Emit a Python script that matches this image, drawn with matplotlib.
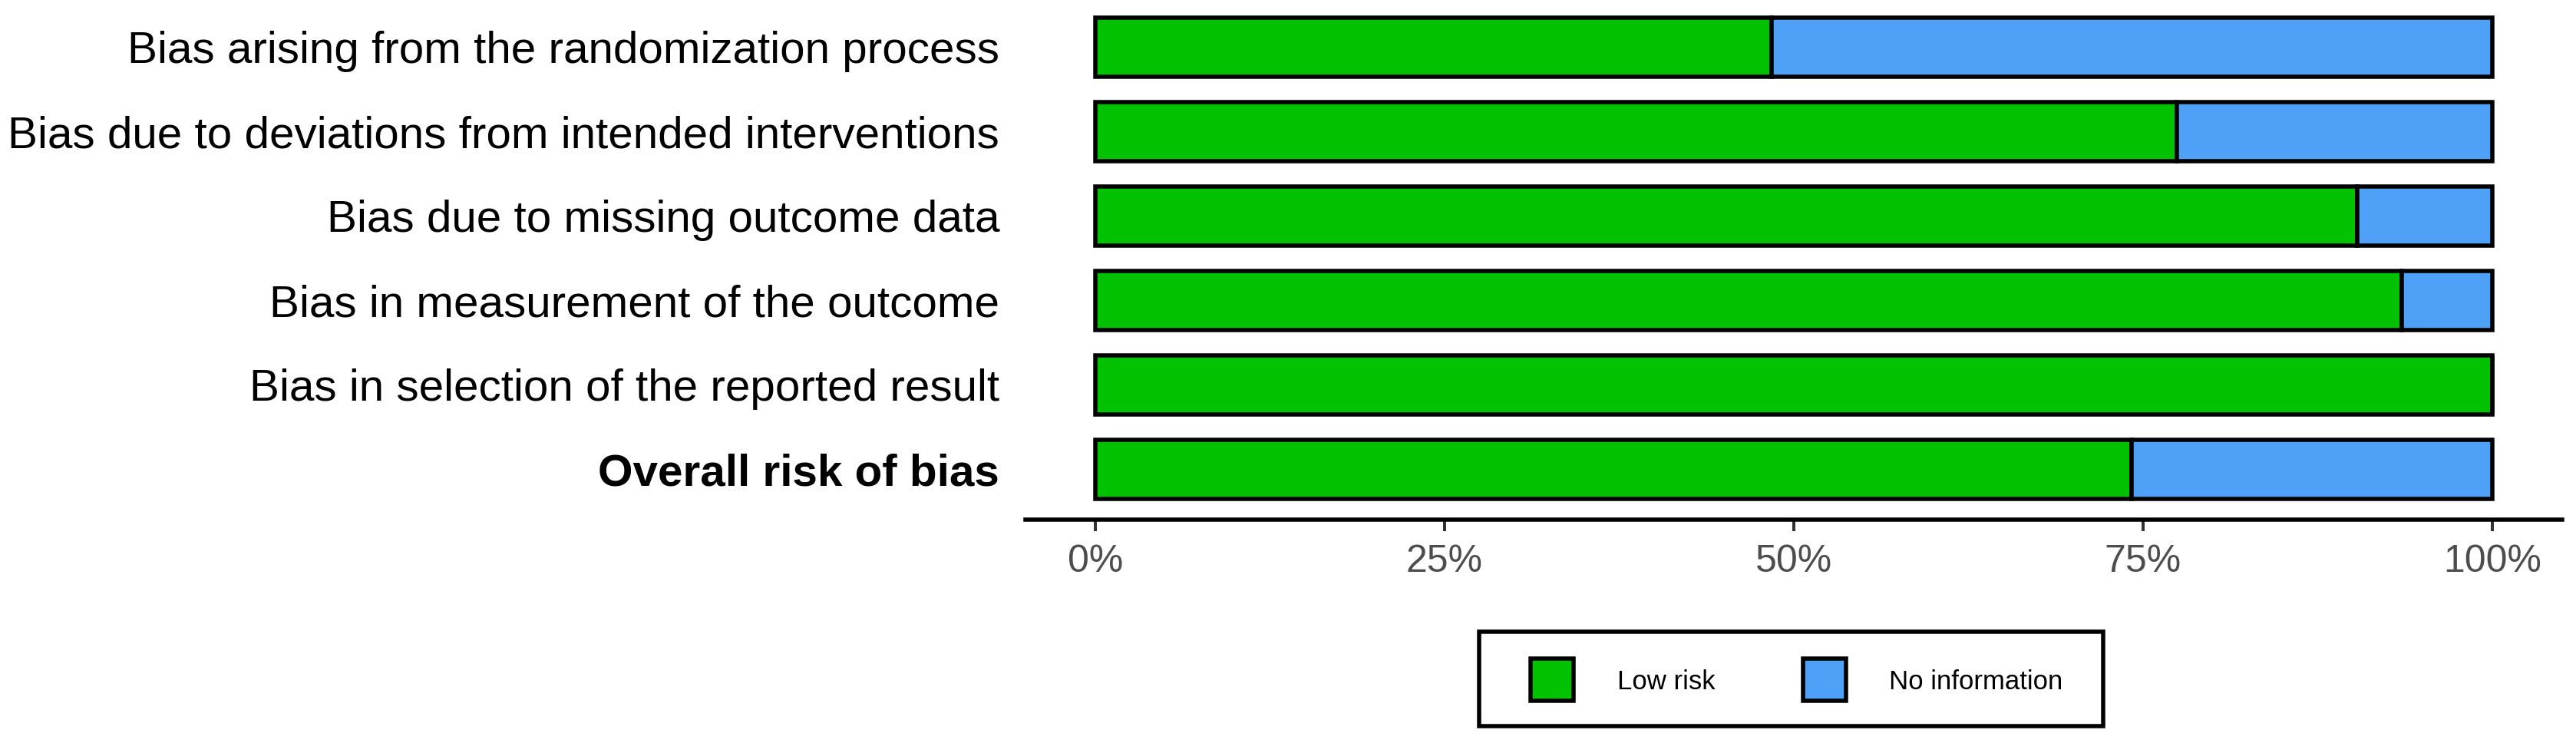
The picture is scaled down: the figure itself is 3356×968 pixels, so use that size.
import matplotlib as mp
mp.use('agg')
import matplotlib.pyplot as plt
from matplotlib.patches import Rectangle

# risk of bias summary, 31 studies
domains = [
    'Bias arising from the randomization process',
    'Bias due to deviations from intended interventions',
    'Bias due to missing outcome data',
    'Bias in measurement of the outcome',
    'Bias in selection of the reported result',
    'Overall risk of bias',
]
n_studies = 31
low_risk = [15, 24, 28, 29, 31, 23]
no_info = [16, 7, 3, 2, 0, 8]
x_ticks = [0, 0.25, 0.5, 0.75, 1.0]
x_labels = ['0%', '25%', '50%', '75%', '100%']
legend_labels = ['Low risk', 'No information']

green = '#02C100'
blue = '#4EA1F7'

W, H = 3356, 968


def fx(x):
    return x / W


def fy(y):
    # pixel row measured from the top -> figure fraction
    return 1 - y / H


def main():
    plt.rcParams['font.family'] = ['Liberation Sans', 'DejaVu Sans']
    px = 72.0 / 100  # points per pixel at dpi 100
    edge = 5.5 * px

    fig = plt.figure(figsize=(W / 100, H / 100), dpi=100)
    ax = fig.add_axes([0.3981, 0.3006, 0.5965, 0.7045])

    ypos = list(range(len(domains)))
    low = [v / n_studies for v in low_risk]
    info = [v / n_studies for v in no_info]

    ax.barh(ypos, low, height=0.7, color=green, edgecolor='black',
            linewidth=edge)
    ax.barh(ypos, info, left=low, height=0.7, color=blue,
            edgecolor='black', linewidth=edge)

    ax.set_xlim(-0.05, 1.05)
    ax.set_ylim(len(domains) - 0.4, -0.6)

    ax.set_xticks(x_ticks)
    ax.set_xticklabels(x_labels, fontsize=36, color='#4D4D4D')
    ax.set_yticks(ypos)
    ax.set_yticklabels(domains, fontsize=42, color='black')
    ax.get_yticklabels()[-1].set_fontweight('bold')

    ax.tick_params(axis='x', length=15 * px, width=4 * px, color='#333333',
                   pad=17 * px)
    ax.tick_params(axis='y', length=0, pad=34 * px)

    for s in ['top', 'right', 'left']:
        ax.spines[s].set_visible(False)
    ax.spines['bottom'].set_linewidth(5.5 * px)
    ax.spines['bottom'].set_color('black')

    # legend box drawn by hand, centred under the panel
    frame = Rectangle((fx(1927), fy(946)), fx(2740 - 1927), (946 - 823) / H,
                      transform=fig.transFigure, facecolor='white',
                      edgecolor='black', linewidth=edge)
    fig.add_artist(frame)
    key_x = [1994, 2349]
    text_x = [2107, 2461]
    for kx, tx, col, lab in zip(key_x, text_x, [green, blue], legend_labels):
        key = Rectangle((fx(kx), fy(913)), fx(56), 55 / H,
                        transform=fig.transFigure, facecolor=col,
                        edgecolor='black', linewidth=edge)
        fig.add_artist(key)
        fig.text(fx(tx), fy(885.5), lab, fontsize=25, ha='left',
                 va='center_baseline')

    fig.savefig('out.png', dpi=100)


if __name__ == '__main__':
    main()
